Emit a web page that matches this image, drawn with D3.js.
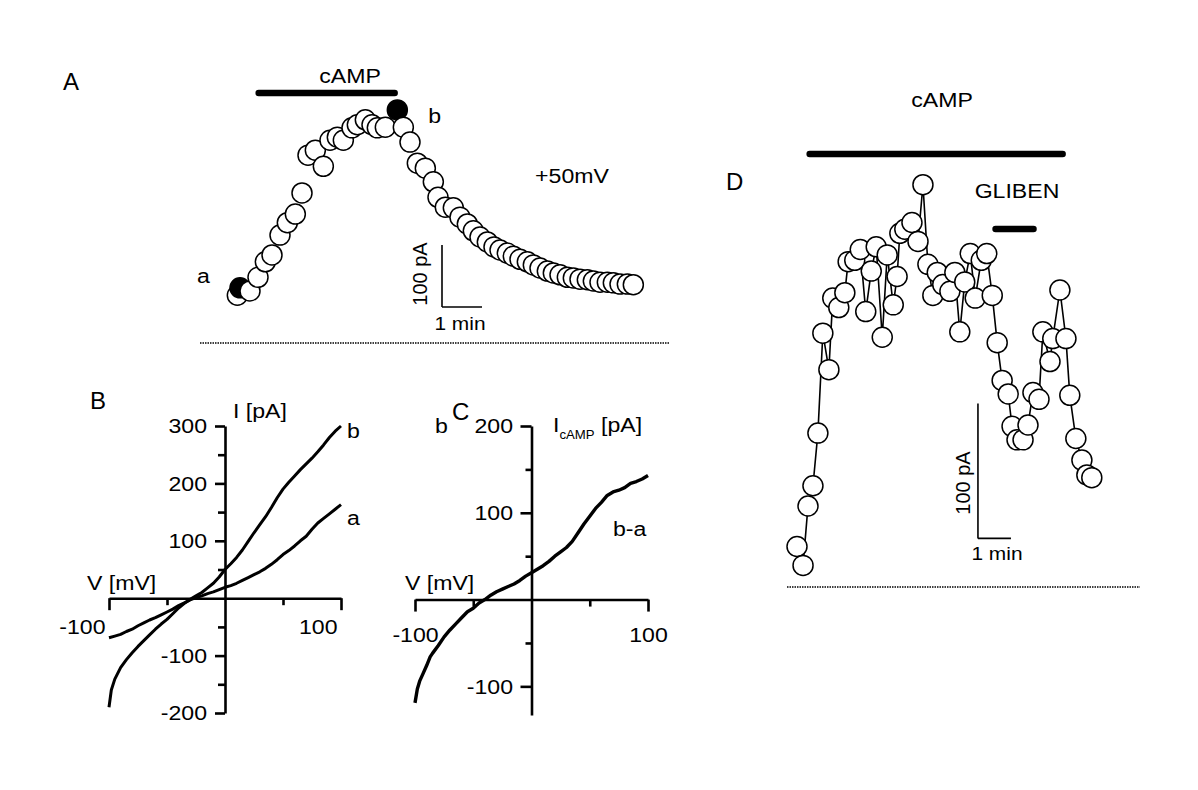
<!DOCTYPE html>
<html><head><meta charset="utf-8">
<script src="https://cdn.jsdelivr.net/npm/d3@7"></script>
<style>
body{margin:0;background:#fff}
text{font-family:"Liberation Sans",Arial,Helvetica,sans-serif;fill:#000}
</style>
</head><body>
<svg id="c" width="1198" height="790"></svg>
<script>
// ---------- Panel A: current at +50 mV vs time (s, pA) ----------
const aTime = [2,6,21,33,44,54,66,77,89,99,108,119,131,141,152,161,174,182,194,204,212,224,242,251,261,272,284,296,303,314,326,336,347,356,366,377,387,396,407,416,426,437,446,456,467,476,486,497,506,516,527,536,546,557,566,576,587,596];
const aCurrent = [77,89,84,106,131,142,174,194,208,242,303,311,285,327,332,327,347,352,360,352,347,348,376,348,324,290,282,260,235,219,218,203,192,181,171,163,155,150,145,140,135,131,126,121,116,113,110,106,105,103,102,100,98,98,97,95,95,94];
const aFilled = [1, 22];           // points "a" and "b"
const aCampBar = [34, 238];        // cAMP application (s)

// ---------- Panel B: I-V curves a and b ----------
const bVoltA = [-100,-95,-90,-85,-80,-75,-70,-65,-60,-55,-50,-45,-40,-35,-30,-25,-20,-15,-10,-5,0,5,10,15,20,25,30,35,40,45,50,55,60,65,70,75,80,85,90,95,100];
const bCurrA = [-69,-66,-63,-58,-54,-48,-43,-38,-34,-29,-24,-19,-13,-8,-3,1,4,8,11,15,19,22,26,31,36,41,46,52,59,67,76,83,91,100,108,120,131,139,147,155,163];
const bVoltB = [-100,-98,-95,-90,-85,-80,-75,-70,-65,-60,-55,-50,-45,-40,-35,-30,-25,-20,-15,-10,-5,0,5,10,15,20,25,30,35,40,45,50,55,60,65,70,75,80,85,90,95,100];
const bCurrB = [-190,-160,-141,-121,-107,-95,-84,-74,-64,-54,-45,-37,-27,-17,-9,-2,4,10,18,26,37,50,60,71,84,99,114,128,142,158,175,190,202,213,224,234,244,255,267,280,291,300];
const bYMajor = [300,200,100,-100,-200];
const bYMinor = [250,150,50,-50,-150];
const bXMajor = [-100,100];
const bXMinor = [-50,50];

// ---------- Panel C: difference current b-a ----------
const cVolt = [-100,-98,-96,-93,-90,-87,-85,-80,-75,-70,-65,-60,-55,-50,-45,-40,-35,-30,-25,-20,-15,-10,-5,0,5,10,15,20,25,30,35,40,45,50,55,60,65,70,75,80,85,90,95,100];
const cCurr = [-119,-103,-94,-85,-76,-66,-62,-53,-43,-35,-28,-21,-14,-10,-4,0,5,9,12,15,18,22,27,31,35,39,44,50,55,60,67,77,87,96,105,112,120,124,126,129,134,136,139,143];
const cYMajor = [200,100,-100];
const cYMinor = [150,50,-50];
const cXMajor = [-100,100];
const cXMinor = [-50,50];

// ---------- Panel D: time course with glibenclamide ----------
const dTime = [0,11,20,29,38,47,58,65,76,87,93,105,115,125,135,144,155,164,175,182,187,196,209,220,229,238,247,255,265,278,287,296,305,315,324,335,345,355,364,373,384,391,400,411,420,429,440,447,460,465,478,489,496,507,518,527,536];
const dCurrent = [30,16,60,75,114,188,161,214,207,218,241,242,250,204,234,252,185,246,209,230,262,265,270,256,298,239,216,233,224,219,233,189,226,247,214,242,247,216,181,153,143,119,109,109,120,144,139,189,167,184,220,184,142,110,94,83,81];
const dCampBar = [23, 483];
const dGlibenBar = [361, 430];

// ======================================================
const svg = d3.select('#c');
const SX = 1.1;
const fmt = d => String(d);   // plain hyphen-minus as in the original

function txt(x, y, s, o = {}) {
  return svg.append('text')
    .attr('transform', `translate(${x},${y}) rotate(${o.rot || 0}) scale(${o.sx == null ? SX : o.sx},1)`)
    .attr('text-anchor', o.anchor || 'start')
    .attr('font-size', o.size || 21)
    .text(s);
}
function styleAxis(g, minor) {
  g.attr('font-size', 21).attr('font-family', null);
  g.selectAll('path,line').attr('stroke', '#000').attr('stroke-width', 2.6);
  g.selectAll('text').attr('fill', '#000');
  if (minor) g.select('.domain').remove();
}
function hline(x1, x2, y, w, cap, dash) {
  const l = svg.append('line').attr('x1', x1).attr('x2', x2).attr('y1', y).attr('y2', y)
    .attr('stroke', '#000').attr('stroke-width', w).attr('stroke-linecap', cap || 'butt');
  if (dash) l.attr('stroke-dasharray', dash);
  return l;
}
function vline(x, y1, y2, w) {
  return svg.append('line').attr('x1', x).attr('x2', x).attr('y1', y1).attr('y2', y2)
    .attr('stroke', '#000').attr('stroke-width', w);
}

// ---------------- Panel A ----------------
const xA = d3.scaleLinear().domain([0, 600]).range([236, 636]);
const yA = d3.scaleLinear().domain([0, 100]).range([343, 281]);
hline(200, 670, yA(0), 1.3, 'butt', '1.5,1');
hline(xA(aCampBar[0]), xA(aCampBar[1]), 93, 6.5, 'round');
svg.append('g').selectAll('circle').data(aTime).join('circle')
  .attr('cx', d => xA(d)).attr('cy', (d, i) => yA(aCurrent[i])).attr('r', 10)
  .attr('fill', (d, i) => aFilled.includes(i) ? '#000' : '#fff')
  .attr('stroke', '#000').attr('stroke-width', 1.5);
vline(xA(309), yA(58), yA(158), 1.6);
hline(xA(309), xA(369), yA(58), 1.6);
txt(63, 90, 'A', {size: 24, sx: 1});
txt(350, 83, 'cAMP', {anchor: 'middle'});
txt(xA(aTime[22]) + 31, yA(aCurrent[22]) + 13, 'b');
txt(xA(aTime[1]) - 43, yA(aCurrent[1]) - 5, 'a');
txt(572, 183, '+50mV', {anchor: 'middle'});
txt(427, 274, '100 pA', {rot: -90, anchor: 'middle', size: 20, sx: 1});
txt(460, 330, '1 min', {anchor: 'middle', size: 19});

// ---------------- Panel B ----------------
const xB = d3.scaleLinear().domain([-100, 100]).range([109, 341]);
const yB = d3.scaleLinear().domain([-200, 300]).range([713, 426]);
{
  const gYm = svg.append('g').attr('transform', `translate(${xB(0)},0)`)
    .call(d3.axisLeft(yB).tickValues(bYMinor).tickSize(7).tickSizeOuter(0).tickFormat(''));
  styleAxis(gYm, true);
  const gY = svg.append('g').attr('transform', `translate(${xB(0)},0)`)
    .call(d3.axisLeft(yB).tickValues(bYMajor).tickSize(10).tickSizeOuter(0).tickPadding(8).tickFormat(fmt));
  styleAxis(gY, false);
  gY.selectAll('text').attr('transform', function () { return `translate(${this.getAttribute('x')},0) scale(${SX},1)`; }).attr('x', 0);
  const gXm = svg.append('g').attr('transform', `translate(0,${yB(0)})`)
    .call(d3.axisBottom(xB).tickValues(bXMinor).tickSize(7).tickSizeOuter(0).tickFormat(''));
  styleAxis(gXm, true);
  const gX = svg.append('g').attr('transform', `translate(0,${yB(0)})`)
    .call(d3.axisBottom(xB).tickValues(bXMajor).tickSize(12).tickSizeOuter(0).tickFormat(fmt));
  styleAxis(gX, false);
  gX.selectAll('text').attr('y', 0).attr('dy', null).attr('text-anchor', 'end')
    .attr('transform', `translate(-4,36) scale(${SX},1)`);
}
const lineB = (vs, is) => d3.line().x((d, i) => xB(vs[i])).y((d, i) => yB(is[i]))(vs);
svg.append('path').attr('d', lineB(bVoltA, bCurrA)).attr('fill', 'none').attr('stroke', '#000')
  .attr('stroke-width', 3).attr('stroke-linejoin', 'round');
svg.append('path').attr('d', lineB(bVoltB, bCurrB)).attr('fill', 'none').attr('stroke', '#000')
  .attr('stroke-width', 3).attr('stroke-linejoin', 'round');
txt(90, 409, 'B', {size: 24, sx: 1});
txt(233, 418, 'I [pA]');
txt(87, 590, 'V [mV]');
txt(347, 438, 'b');
txt(347, 525, 'a');

// ---------------- Panel C ----------------
const xC = d3.scaleLinear().domain([-100, 100]).range([415, 648]);
const yC = d3.scaleLinear().domain([-133, 200]).range([715, 426]);
{
  const gYm = svg.append('g').attr('transform', `translate(${xC(0)},0)`)
    .call(d3.axisLeft(yC).tickValues(cYMinor).tickSize(6).tickSizeOuter(0).tickFormat(''));
  styleAxis(gYm, true);
  const gY = svg.append('g').attr('transform', `translate(${xC(0)},0)`)
    .call(d3.axisLeft(yC).tickValues(cYMajor).tickSize(11).tickSizeOuter(0).tickPadding(7.5).tickFormat(fmt));
  styleAxis(gY, false);
  gY.selectAll('text').attr('transform', function () { return `translate(${this.getAttribute('x')},0) scale(${SX},1)`; }).attr('x', 0);
  const gXm = svg.append('g').attr('transform', `translate(0,${yC(0)})`)
    .call(d3.axisBottom(xC).tickValues(cXMinor).tickSize(7).tickSizeOuter(0).tickFormat(''));
  styleAxis(gXm, true);
  const gX = svg.append('g').attr('transform', `translate(0,${yC(0)})`)
    .call(d3.axisBottom(xC).tickValues(cXMajor).tickSize(12).tickSizeOuter(0).tickFormat(fmt));
  styleAxis(gX, false);
  gX.selectAll('text').attr('y', 0).attr('dy', null).attr('text-anchor', 'middle')
    .attr('transform', `translate(0,42) scale(${SX},1)`);
}
svg.append('path')
  .attr('d', d3.line().x((d, i) => xC(cVolt[i])).y((d, i) => yC(cCurr[i]))(cVolt))
  .attr('fill', 'none').attr('stroke', '#000').attr('stroke-width', 3.4).attr('stroke-linejoin', 'round');
txt(435, 433, 'b');
txt(452, 420, 'C', {size: 24, sx: 1});
{
  const t = svg.append('text').attr('transform', `translate(553,432) scale(${SX},1)`).attr('font-size', 21);
  t.append('tspan').text('I');
  t.append('tspan').attr('font-size', 12).attr('dy', 7).text('cAMP');
  t.append('tspan').attr('font-size', 21).attr('dy', -7).text(' [pA]');
}
txt(405, 590, 'V [mV]');
txt(613, 536, 'b-a');

// ---------------- Panel D ----------------
const xD = d3.scaleLinear().domain([0, 600]).range([797, 1127]);
const yD = d3.scaleLinear().domain([0, 100]).range([587, 452]);
hline(787, 1140, yD(0), 1.3, 'butt', '1.5,1');
hline(xD(dCampBar[0]), xD(dCampBar[1]), 154, 6.5, 'round');
hline(xD(dGlibenBar[0]), xD(dGlibenBar[1]), 229, 6.5, 'round');
svg.append('path')
  .attr('d', d3.line().x((d, i) => xD(dTime[i])).y((d, i) => yD(dCurrent[i]))(dTime))
  .attr('fill', 'none').attr('stroke', '#000').attr('stroke-width', 1.6);
svg.append('g').selectAll('circle').data(dTime).join('circle')
  .attr('cx', d => xD(d)).attr('cy', (d, i) => yD(dCurrent[i])).attr('r', 10)
  .attr('fill', '#fff').attr('stroke', '#000').attr('stroke-width', 1.5);
vline(xD(329), yD(36), yD(136), 1.6);
hline(xD(329), xD(389), yD(36), 1.6);
txt(726, 190, 'D', {size: 24, sx: 1});
txt(942, 107, 'cAMP', {anchor: 'middle'});
txt(1017, 198, 'GLIBEN', {anchor: 'middle'});
txt(970, 483, '100 pA', {rot: -90, anchor: 'middle', size: 20, sx: 1});
txt(997, 560, '1 min', {anchor: 'middle', size: 19});
</script>
</body></html>
